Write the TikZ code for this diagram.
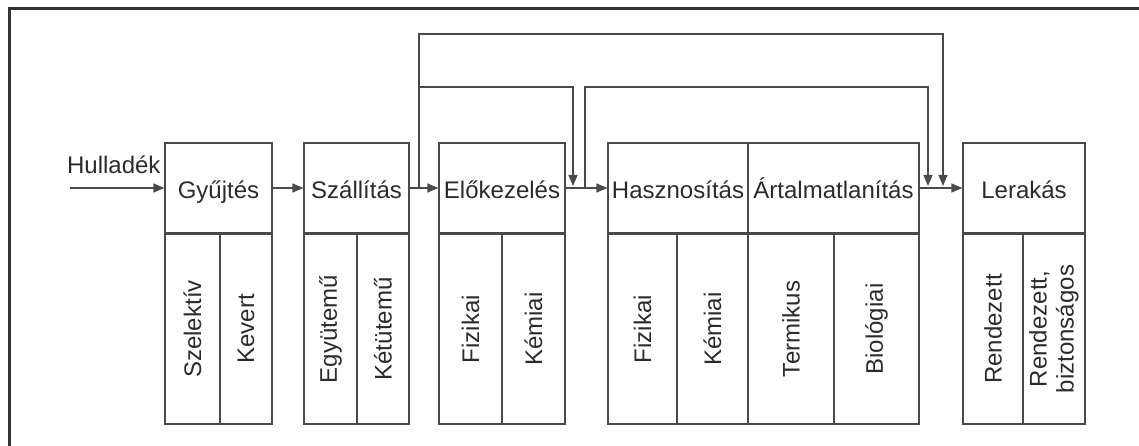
\documentclass[tikz,border=0pt]{standalone}
\usepackage{fontspec}
\setmainfont{Liberation Sans}
\usetikzlibrary{arrows.meta}
\definecolor{linegray}{HTML}{4A4A4A}
\definecolor{textgray}{HTML}{2B2B2B}
\tikzset{
	head/.style 2 args={draw=linegray,line width=1.2pt,inner sep=0pt,text height=22pt,text depth=0pt,minimum width=#1pt,minimum height=90pt,name=#2},
	sub/.style 2 args={draw=linegray,line width=1.2pt,inner sep=0pt,rotate=90,align=center,minimum width=190pt,minimum height=#1pt,name=#2},
	flow/.style={draw=linegray,line width=1.2pt,-{Triangle[length=11pt,width=9pt]}},
	frame/.style={draw=black!80,line width=3pt}
}
\begin{document}
\begin{tikzpicture}[x=1pt,y=-1pt,text=textgray,font=\fontsize{24}{27}\selectfont]
						\useasboundingbox (0,0) rectangle (1139,446);
						\draw [frame] (9,446) -- (9,9) -- (1139,9);

						\node [head={107}{gyujtes}] at (218.5,188) {Gyűjtés};
						\node [head={105}{szallitas}] at (356.5,188) {Szállítás};
						\node [head={126}{elokez}] at (502,188) {Előkezelés};
						\node [head={140}{hasznos}] at (678,188) {Hasznosítás};
						\node [head={171}{artalm}] at (833.5,188) {Ártalmatlanítás};
						\node [head={122}{lerakas}] at (1024,188) {Lerakás};

						\node [sub={55}{szel}] at (192.5,329) {Szelektív};
						\node [sub={52}{kev}] at (246,329) {Kevert};
						\node [sub={53}{egyut}] at (330.5,329) {Együtemű};
						\node [sub={52}{ketut}] at (383,329) {Kétütemű};
						\node [sub={63}{fiz1}] at (470.5,329) {Fizikai};
						\node [sub={63}{kem1}] at (533.5,329) {Kémiai};
						\node [sub={69}{fiz2}] at (642.5,329) {Fizikai};
						\node [sub={71}{kem2}] at (712.5,329) {Kémiai};
						\node [sub={86}{term}] at (791,329) {Termikus};
						\node [sub={85}{bio}] at (876.5,329) {Biológiai};
						\node [sub={60}{rend}] at (993,329) {Rendezett};
						\node [sub={62}{rendb}] at (1054,329) {Rendezett,\\biztonságos};

						\node [anchor=base east] (hulladek) at (164,174) {Hulladék};
						\coordinate (be) at (70,188);
						\coordinate (k1) at (419,188);
						\coordinate (k2) at (585,188);
						\coordinate (e1) at (573,186);
						\coordinate (e2) at (928,186);
						\coordinate (e3) at (943,186);

						\draw [flow] (be) -- (gyujtes);
						\draw [flow] (gyujtes) -- (szallitas);
						\draw [flow] (szallitas) -- (elokez);
						\draw [flow] (elokez) -- (hasznos);
						\draw [flow] (artalm) -- (lerakas);
						\draw [flow] (k1) -- (419,34) -| (e3);
						\draw [flow] (419,87) -| (e1);
						\draw [flow] (k2) -- (585,87) -| (e2);
					\end{tikzpicture}
\end{document}
